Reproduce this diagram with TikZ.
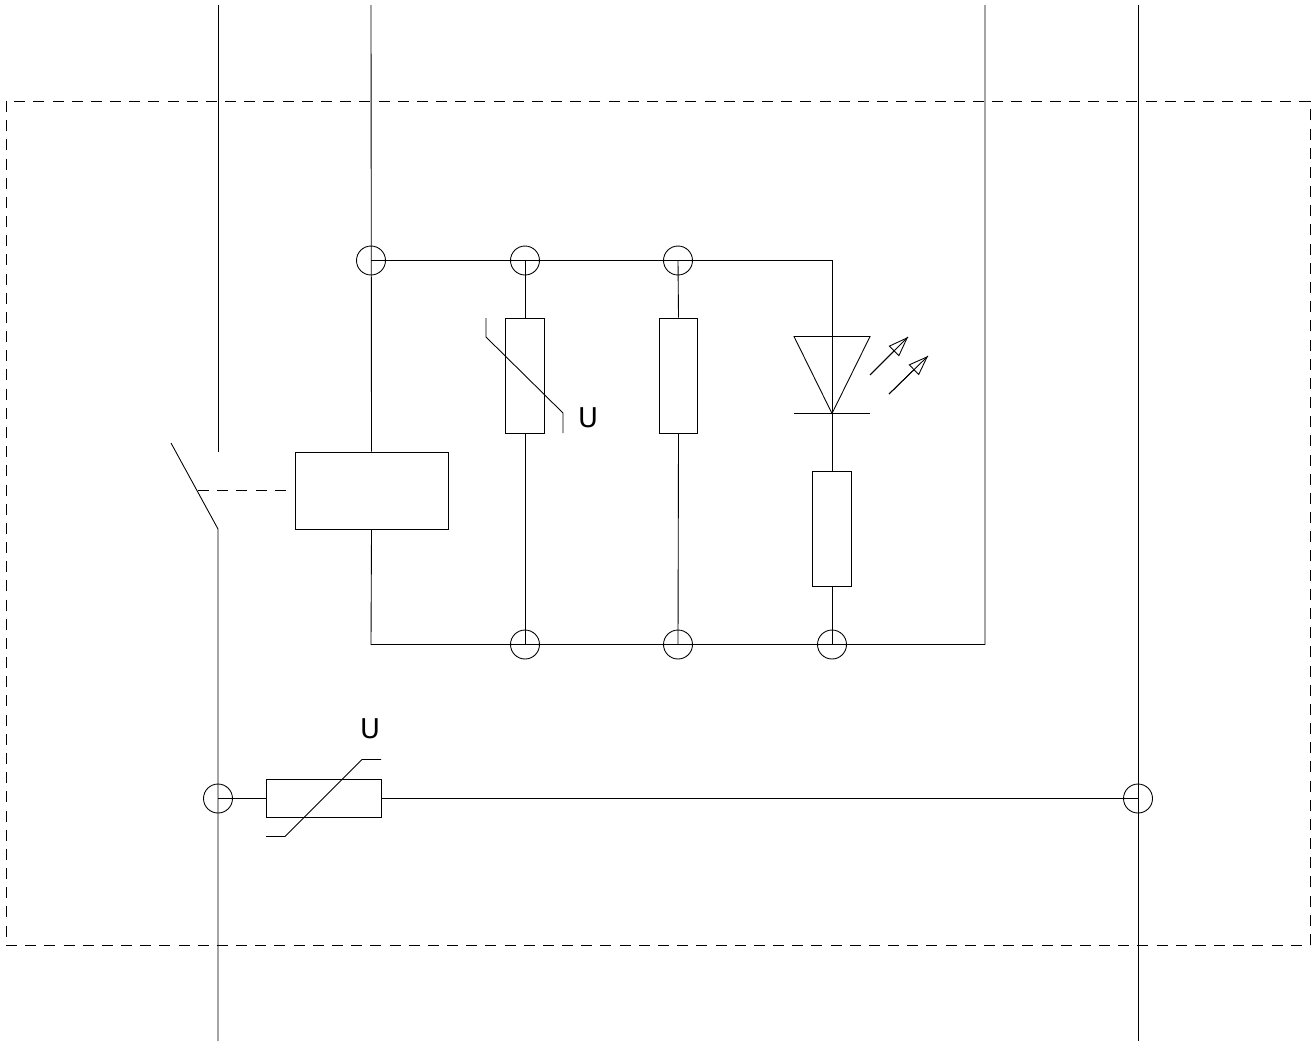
\documentclass[tikz,border=0pt]{standalone}
\usepackage{fontspec}
\setmainfont{DejaVu Sans}
\usetikzlibrary{arrows.meta}
\tikzset{
  wire/.style={line width=0.5pt},
  elem/.style={draw, rectangle, line width=0.5pt, inner sep=0pt, minimum width=0.77cm, minimum height=2.3cm},
  junction/.style={draw, circle, line width=0.5pt, inner sep=0pt, minimum size=0.58cm},
  boundary/.style={line width=0.5pt, dash pattern=on 0.22cm off 0.1636cm},
  ray/.style={line width=0.5pt, -{Triangle[open,length=0.4cm,width=0.29cm,line width=0.5pt]}},
  lbl/.style={font=\fontsize{15.5}{18}\selectfont, inner sep=0pt}
}
\begin{document}
\begin{tikzpicture}[x=0.02cm,y=-0.02cm]
    \useasboundingbox (0,0) rectangle (1314,1042);
    % 
    \coordinate (BA) at (6,101);
    \coordinate (BB) at (6,945);
    \coordinate (BC) at (1310,945);
    \coordinate (BD) at (1310,101);
    \draw[boundary] (BA)--(BB);
    \draw[boundary] (BB)--(BC);
    \draw[boundary] (BC)--(BD);
    \draw[boundary] (BD)--(BA);
    % 
    \node[junction] (JA) at (371,260.5) {};
    \node[junction] (JB) at (525,260.5) {};
    \node[junction] (JC) at (678,260.5) {};
    \node[junction] (JD) at (525,644.5) {};
    \node[junction] (JE) at (678,644.5) {};
    \node[junction] (JF) at (832,644.5) {};
    \node[junction] (JG) at (218,798.5) {};
    \node[junction] (JH) at (1138,798.5) {};
    %%%%%%%%%%%%%%%%%%%%%% 
    \node[elem, minimum width=3.06cm, minimum height=1.54cm] (K) at (371.5,490.5) {};
    \node[elem] (RA) at (525,375.5) {};
    \node[elem] (RB) at (678.5,375.5) {};
    \node[elem] (RC) at (832,528.5) {};
    \node[elem, minimum width=2.3cm, minimum height=0.77cm] (RD) at (323.5,798.5) {};
    %%%%%%%%%%%%%%%%%%%%%% 
    \coordinate (PA) at (218,5);
    \coordinate (PB) at (371,5);
    \coordinate (PC) at (985,5);
    \coordinate (PD) at (1138,5);
    \coordinate (PE) at (218,1041);
    \coordinate (PF) at (1138,1041);
    \coordinate (SA) at (218,452);
    \coordinate (SB) at (218,529);
    \coordinate (SC) at (171,443);
    \coordinate (SD) at (197.5,490.5);
    \coordinate (SE) at (287,490.5);
    \coordinate (TA) at (832,260.5);
    \coordinate (TB) at (371,644.5);
    \coordinate (TC) at (985,644.5);
    % 
    \draw[wire] (PA)--(SA);
    \draw[wire] (SC)--(SB)--(PE);
    \draw[wire, dash pattern=on 0.22cm off 0.17cm] (SD)--(SE);
    \draw[wire] (PB)--(K.north);
    \draw[wire] (K.south)--(TB)--(TC)--(PC);
    \draw[wire] (PD)--(PF);
    \draw[wire] (JA.center)--(TA)--(RC.north);
    \draw[wire] (JB.center)--(RA.north);
    \draw[wire] (RA.south)--(JD.center);
    \draw[wire] (JC.center)--(RB.north);
    \draw[wire] (RB.south)--(JE.center);
    \draw[wire] (RC.south)--(JF.center);
    \draw[wire] (JG.center)--(RD.west);
    \draw[wire] (RD.east)--(JH.center);
    %%%%%%%%%%%%%%%%%%%%%% 
    \draw[wire] (486,318)--(486,337)--(563,413)--(563,433);
    \node[lbl] (UA) at (588,418) {U};
    % 
    \draw[wire] (266,836.5)--(285,836.5)--(362,759.5)--(381,759.5);
    \node[lbl] (UB) at (370,729) {U};
    %%%%%%%%%%%%%%%%%%%%%% 
    \draw[wire] (794,336.5)--(870,336.5)--(832,413.5)--cycle;
    \draw[wire] (794,413.5)--(870,413.5);
    % 
    \coordinate (LA) at (870,375);
    \coordinate (LB) at (908,337);
    \coordinate (LC) at (889,394);
    \coordinate (LD) at (928,356);
    \draw[ray] (LA)--(LB);
    \draw[ray] (LC)--(LD);
    \draw[wire] (LA)--(LB);
    \draw[wire] (LC)--(LD);
  \end{tikzpicture}
\end{document}
